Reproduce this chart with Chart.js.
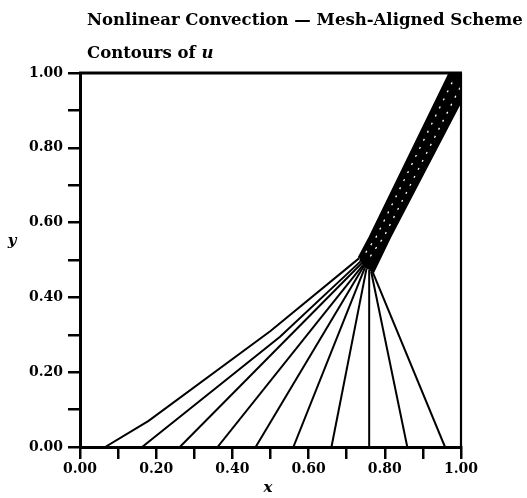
<!DOCTYPE html>
<html>
<head>
<meta charset="utf-8">
<script src="https://cdn.jsdelivr.net/npm/chart.js@4.4.1/dist/chart.umd.min.js"></script>
<style>
  html, body { margin: 0; padding: 0; background: #fff; }
  #wrap { width: 527px; height: 498px; position: relative; }
</style>
</head>
<body>
<div id="wrap"><canvas id="c" width="527" height="498"></canvas></div>
<script>
// ---- Data ----
const titleText = "Nonlinear Convection \u2014 Mesh-Aligned Scheme";
const subtitleText = "Contours of ";
const subtitleVar = "u";
const xAxisLabel = "x";
const yAxisLabel = "y";
const xTickLabels = ["0.00", "0.20", "0.40", "0.60", "0.80", "1.00"];
const yTickLabels = ["0.00", "0.20", "0.40", "0.60", "0.80", "1.00"];

// contour lines of u: fan from the bottom edge, joining into the shock band
const contour0 = [[0.066,0],[0.18,0.07],[0.50,0.31],[0.733,0.505],[0.762,0.561],[0.972,1.0]];
const contour1 = [[0.163,0],[0.525,0.295],[0.737,0.497],[0.767,0.561],[0.979,1.0]];
const contour2 = [[0.262,0],[0.740,0.492],[0.773,0.561],[0.986,1.0]];
const contour3 = [[0.361,0],[0.743,0.487],[0.778,0.561],[0.993,1.0]];
const contour4 = [[0.461,0],[0.745,0.484],[0.784,0.561],[1.0,0.998]];
const contour5 = [[0.560,0],[0.748,0.480],[0.790,0.561],[1.0,0.982]];
const contour6 = [[0.660,0],[0.752,0.477],[0.795,0.561],[1.0,0.968]];
const contour7 = [[0.759,0],[0.759,0.474],[0.801,0.561],[1.0,0.955]];
const contour8 = [[0.859,0],[0.764,0.470],[0.806,0.561],[1.0,0.941]];
const contour9 = [[0.958,0],[0.768,0.468],[0.812,0.561],[1.0,0.928]];
const contours = [contour0,contour1,contour2,contour3,contour4,contour5,contour6,contour7,contour8,contour9];

// light gaps visible inside the dense shock band
const bandGapA = [[0.750,0.52],[0.777,0.561],[0.984,0.99]];
const bandGapB = [[0.762,0.51],[0.797,0.561],[1.0,0.966]];

// ---- Chart ----
const FONT = "'DejaVu Serif', serif";
const toPts = arr => arr.map(p => ({x: p[0], y: p[1]}));

const datasets = contours.map(c => ({
  data: toPts(c), showLine: true, borderColor: '#000', borderWidth: 2,
  segment: { borderWidth: s => (s.p0.parsed.y >= 0.46 ? 3.4 : 2) },
  pointRadius: 0, tension: 0, fill: false, order: 2, clip: 0
}));
[bandGapA, bandGapB].forEach(g => datasets.push({
  data: toPts(g), showLine: true, borderColor: '#fff', borderWidth: 1.3,
  borderDash: [2, 7], pointRadius: 0, tension: 0, fill: false, order: 1, clip: 0
}));

function tickCb(labels) {
  return function(value) {
    const i = Math.round(value * 10);
    return (i % 2 === 0) ? labels[i / 2] : '';
  };
}

const decor = {
  id: 'decor',
  afterDatasetsDraw(chart) {
    const {ctx, chartArea: a} = chart;
    ctx.save();
    ctx.strokeStyle = '#000';
    ctx.lineWidth = 3;
    ctx.beginPath(); ctx.moveTo(a.left - 1, a.top); ctx.lineTo(a.right + 1, a.top); ctx.stroke();
    ctx.lineWidth = 2.2;
    ctx.beginPath(); ctx.moveTo(a.right, a.top); ctx.lineTo(a.right, a.bottom); ctx.stroke();
    ctx.restore();
  },
  afterDraw(chart) {
    const ctx = chart.ctx;
    ctx.save();
    ctx.fillStyle = '#000';
    ctx.textBaseline = 'alphabetic';
    ctx.textAlign = 'left';
    let size = 16;
    ctx.font = `bold ${size}px ${FONT}`;
    const w = ctx.measureText(titleText).width;
    size = Math.min(17, size * 436 / w);
    ctx.font = `bold ${size}px ${FONT}`;
    ctx.fillText(titleText, 87, 25);
    ctx.fillText(subtitleText, 87, 58);
    const sw = ctx.measureText(subtitleText).width;
    ctx.font = `italic bold ${size}px ${FONT}`;
    ctx.fillText(subtitleVar, 87 + sw, 58);
    ctx.font = `italic bold 15px ${FONT}`;
    ctx.textAlign = 'center';
    ctx.fillText(xAxisLabel, 268, 492);
    ctx.fillText(yAxisLabel, 12, 245);
    ctx.restore();
  }
};

new Chart(document.getElementById('c'), {
  type: 'scatter',
  data: { datasets },
  options: {
    responsive: false,
    animation: false,
    devicePixelRatio: 1,
    layout: { padding: { left: 0, top: 73, right: 66, bottom: 0 } },
    plugins: { legend: { display: false }, tooltip: { enabled: false }, title: { display: false } },
    scales: {
      x: {
        type: 'linear', min: 0, max: 1,
        afterFit(s) { s.height = 51; },
        ticks: { stepSize: 0.1, autoSkip: false, maxRotation: 0, color: '#000', padding: 2,
                 font: { family: FONT, size: 14, weight: 'bold' }, callback: tickCb(xTickLabels) },
        grid: { drawOnChartArea: false, drawTicks: true, tickLength: 12, color: '#000', lineWidth: 2.5 },
        border: { display: true, color: '#000', width: 3 }
      },
      y: {
        type: 'linear', min: 0, max: 1,
        afterFit(s) { s.width = 80; },
        ticks: { stepSize: 0.1, autoSkip: false, color: '#000', padding: 5,
                 font: { family: FONT, size: 14, weight: 'bold' }, callback: tickCb(yTickLabels) },
        grid: { drawOnChartArea: false, drawTicks: true, tickLength: 12, color: '#000', lineWidth: 2.5 },
        border: { display: true, color: '#000', width: 3 }
      }
    }
  },
  plugins: [decor]
});
</script>
</body>
</html>
